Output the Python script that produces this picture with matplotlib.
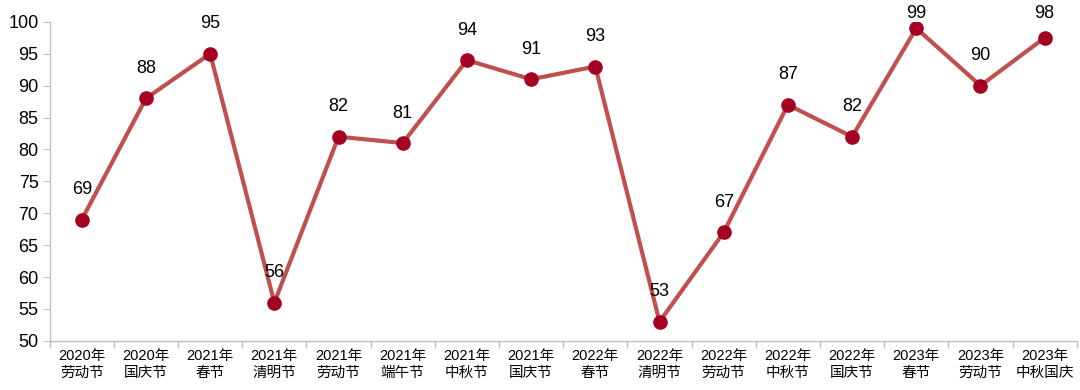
import matplotlib
matplotlib.use('Agg')
import matplotlib.pyplot as plt
import numpy as np

plt.rcParams['font.family'] = ['Liberation Sans', 'Noto Sans CJK SC', 'DejaVu Sans']

# 节假日类别与数值
categories = ['2020年\n劳动节', '2020年\n国庆节', '2021年\n春节', '2021年\n清明节',
              '2021年\n劳动节', '2021年\n端午节', '2021年\n中秋节', '2021年\n国庆节',
              '2022年\n春节', '2022年\n清明节', '2022年\n劳动节', '2022年\n中秋节',
              '2022年\n国庆节', '2023年\n春节', '2023年\n劳动节', '2023年\n中秋国庆']
values = [69, 88, 95, 56, 82, 81, 94, 91, 93, 53, 67, 87, 82, 99, 90, 97.5]

fig = plt.figure(figsize=(10.8, 3.9), dpi=100)
ax = fig.add_axes([0.046, 0.126, 0.951, 0.818])

x = np.arange(len(categories))
ax.plot(x, values, color='#C0504D', linewidth=3, marker='o', markersize=9.5,
        markerfacecolor='#A50021', markeredgecolor='#A50021', zorder=3)

ax.set_xlim(-0.5, len(categories) - 0.5)
ax.set_ylim(50, 100)

# 数据标签放在点上方约30像素, 靠近图顶时向下收
fig_h = fig.get_figheight() * fig.dpi
for xi, v in zip(x, values):
    py = ax.transData.transform((xi, v))[1]
    dist_top = fig_h - py
    off_px = min(30, dist_top - 13)
    ax.annotate(f'{v:.0f}', (xi, v), xytext=(0, off_px * 72 / fig.dpi),
                textcoords='offset points', ha='center', va='center',
                fontsize=13, color='black')

ax.set_yticks(range(50, 101, 5))
ax.set_xticks(x)
ax.set_xticklabels(categories, fontsize=10.5, linespacing=1.25)
ax.set_xticks(np.arange(-0.5, len(categories), 1), minor=True)
ax.tick_params(axis='x', which='major', length=0, pad=6)
ax.tick_params(axis='x', which='minor', length=5, color='#BFBFBF', width=1)
ax.tick_params(axis='y', labelsize=13, length=5, color='#BFBFBF', pad=3)

for s in ['top', 'right']:
    ax.spines[s].set_visible(False)
for s in ['left', 'bottom']:
    ax.spines[s].set_color('#BFBFBF')
    ax.spines[s].set_linewidth(1)

fig.savefig('out.png', dpi=100)
